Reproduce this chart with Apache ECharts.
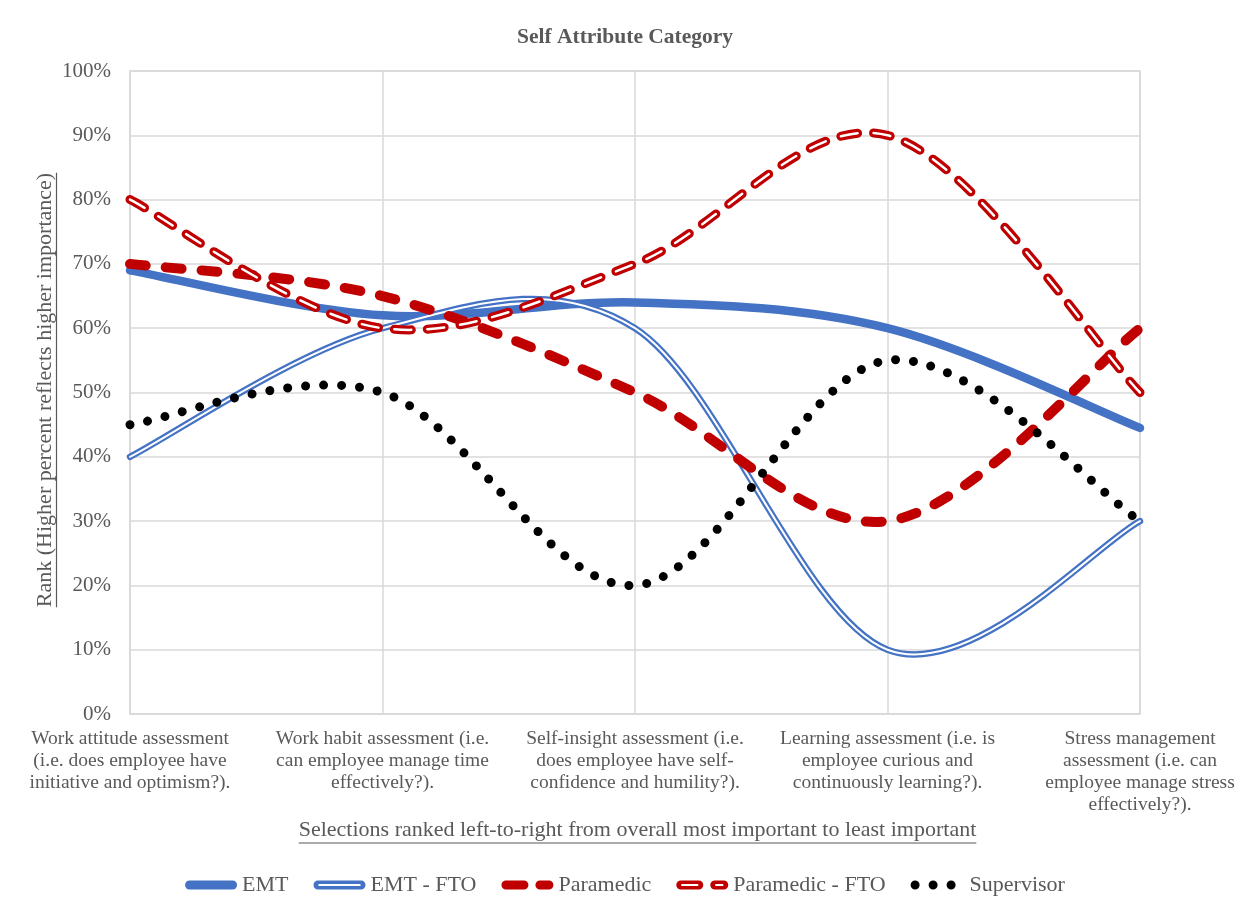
<!DOCTYPE html>
<html>
<head>
<meta charset="utf-8">
<script src="https://cdn.jsdelivr.net/npm/echarts@6/dist/echarts.min.js"></script>
<style>
  html, body { margin: 0; padding: 0; background: #ffffff; }
  #chart { width: 1250px; height: 911px; }
</style>
</head>
<body>
<div id="chart"></div>
<script>
// Assessment categories, ordered from most to least important
const categories = [
  'Work attitude assessment\n(i.e. does employee have\ninitiative and optimism?).',
  'Work habit assessment (i.e.\ncan employee manage time\neffectively?).',
  'Self-insight assessment (i.e.\ndoes employee have self-\nconfidence and humility?).',
  'Learning assessment (i.e. is\nemployee curious and\ncontinuously learning?).',
  'Stress management\nassessment (i.e. can\nemployee manage stress\neffectively?).'
];

// Rank (%) per respondent group
const emt          = [69, 62, 64, 60, 44.5];
const emtFto       = [40, 60, 60, 10, 30];
const paramedic    = [70, 65, 50, 30, 60];
const paramedicFto = [80, 60, 70, 90, 50];
const supervisor   = [45, 50, 20, 55, 30];

const seriesNames = ['EMT', 'EMT - FTO', 'Paramedic', 'Paramedic - FTO', 'Supervisor'];

const BLUE = '#4472C4';
const RED = '#C00000';
const TEXT = '#595959';
const GRIDLINE = '#d9d9d9';
const FONT = '"Liberation Serif", "Times New Roman", serif';

// Smooth curve through the points: cubic Bezier segments whose tangents
// come from the neighbouring points (one sixth of the chord).
function smoothPath(pts) {
  let d = 'M' + pts[0][0] + ',' + pts[0][1];
  const n = pts.length;
  for (let i = 0; i < n - 1; i++) {
    const p0 = pts[Math.max(i - 1, 0)];
    const p1 = pts[i];
    const p2 = pts[i + 1];
    const p3 = pts[Math.min(i + 2, n - 1)];
    const c1x = p1[0] + (p2[0] - p0[0]) / 6;
    const c1y = p1[1] + (p2[1] - p0[1]) / 6;
    const c2x = p2[0] - (p3[0] - p1[0]) / 6;
    const c2y = p2[1] - (p3[1] - p1[1]) / 6;
    d += 'C' + c1x + ',' + c1y + ',' + c2x + ',' + c2y + ',' + p2[0] + ',' + p2[1];
  }
  return d;
}

// Each stroke layer: {stroke, lineWidth, lineDash}
function curveSeries(name, values, color, layers) {
  return {
    name: name,
    type: 'custom',
    silent: true,
    itemStyle: { color: color },
    data: values.map((v, i) => [i, v]),
    renderItem: function (params, api) {
      if (params.dataIndexInside !== 0) return null;
      const count = params.dataInsideLength;
      const pts = [];
      for (let i = 0; i < count; i++) {
        pts.push(api.coord([api.value(0, i), api.value(1, i)]));
      }
      const d = smoothPath(pts);
      return {
        type: 'group',
        children: layers.map(l => ({
          type: 'path',
          shape: { pathData: d },
          style: {
            fill: 'none',
            stroke: l.stroke,
            lineWidth: l.lineWidth,
            lineDash: l.lineDash || null,
            lineCap: 'round',
            lineJoin: 'round'
          }
        }))
      };
    }
  };
}

// Legend glyphs (52 x 9 boxes)
const icons = {
  'EMT': 'path://M4.5,0L47.5,0A4.5,4.5,0,0,1,47.5,9L4.5,9A4.5,4.5,0,0,1,4.5,0Z',
  'EMT - FTO': 'path://M4.5,0L47.5,0A4.5,4.5,0,0,1,47.5,9L4.5,9A4.5,4.5,0,0,1,4.5,0Z' +
               'M5,3.5L5,5.5L47,5.5L47,3.5Z',
  'Paramedic': 'path://M4.5,0L22.5,0A4.5,4.5,0,0,1,22.5,9L4.5,9A4.5,4.5,0,0,1,4.5,0Z' +
               'M38.5,0L47.5,0A4.5,4.5,0,0,1,47.5,9L38.5,9A4.5,4.5,0,0,1,38.5,0Z',
  'Paramedic - FTO': 'path://M4.5,0L22.5,0A4.5,4.5,0,0,1,22.5,9L4.5,9A4.5,4.5,0,0,1,4.5,0Z' +
               'M5,3.5L5,5.5L22,5.5L22,3.5Z' +
               'M38.5,0L47.5,0A4.5,4.5,0,0,1,47.5,9L38.5,9A4.5,4.5,0,0,1,38.5,0Z' +
               'M39,3.5L39,5.5L47,5.5L47,3.5Z',
  'Supervisor': 'path://M0,4A4,4,0,1,0,8,4A4,4,0,1,0,0,4Z' +
               'M16,4A4,4,0,1,0,24,4A4,4,0,1,0,16,4Z' +
               'M32,4A4,4,0,1,0,40,4A4,4,0,1,0,32,4Z'
};
const legendColors = { 'EMT': BLUE, 'EMT - FTO': BLUE, 'Paramedic': RED, 'Paramedic - FTO': RED, 'Supervisor': '#000000' };

// Underlined axis titles
const xName = 'Selections ranked left-to-right from overall most important to least important';
const yName = 'Rank (Higher percent reflects higher importance)';
const NAME_SIZE = 22;
const measureCtx = document.createElement('canvas').getContext('2d');
measureCtx.font = NAME_SIZE + 'px ' + FONT;
const xNameW = measureCtx.measureText(xName).width;
const yNameW = measureCtx.measureText(yName).width;

const chart = echarts.init(document.getElementById('chart'), null, { renderer: 'canvas' });

chart.setOption({
  animation: false,
  backgroundColor: '#ffffff',
  title: {
    text: 'Self Attribute Category',
    left: 'center',
    top: 21,
    textStyle: { fontFamily: FONT, fontSize: 21.5, fontWeight: 'bold', color: TEXT }
  },
  grid: {
    left: 130, right: 110, top: 71, bottom: 197,
    show: true, borderColor: GRIDLINE, borderWidth: 1.5
  },
  xAxis: {
    type: 'category',
    data: categories,
    boundaryGap: false,
    axisLine: { show: true, lineStyle: { color: GRIDLINE, width: 1.5 } },
    axisTick: { show: false },
    splitLine: { show: true, lineStyle: { color: GRIDLINE, width: 1.5 } },
    axisLabel: {
      interval: 0,
      margin: 14,
      fontFamily: FONT,
      fontSize: 19.5,
      lineHeight: 22,
      color: TEXT,
      align: 'center'
    }
  },
  yAxis: {
    type: 'value',
    min: 0,
    max: 100,
    interval: 10,
    axisLine: { show: true, lineStyle: { color: GRIDLINE, width: 1.5 } },
    axisTick: { show: false },
    splitLine: { show: true, lineStyle: { color: GRIDLINE, width: 1.5 } },
    axisLabel: {
      formatter: '{value}%',
      margin: 19,
      fontFamily: FONT,
      fontSize: 21,
      color: TEXT
    }
  },
  legend: {
    bottom: 10,
    left: 'center',
    itemWidth: 52,
    itemHeight: 9,
    itemGap: 25,
    selectedMode: false,
    formatter: name => (name === 'Supervisor' ? ' ' + name : name),
    textStyle: { fontFamily: FONT, fontSize: 22, color: TEXT },
    data: seriesNames.map(n => ({
      name: n,
      icon: icons[n],
      itemStyle: { color: legendColors[n], borderWidth: 0 }
    }))
  },
  series: [
    curveSeries('EMT', emt, BLUE, [
      { stroke: BLUE, lineWidth: 8.5 }
    ]),
    curveSeries('EMT - FTO', emtFto, BLUE, [
      { stroke: BLUE, lineWidth: 6.5 },
      { stroke: '#ffffff', lineWidth: 2 }
    ]),
    curveSeries('Paramedic', paramedic, RED, [
      { stroke: RED, lineWidth: 10, lineDash: [16, 20] }
    ]),
    curveSeries('Paramedic - FTO', paramedicFto, RED, [
      { stroke: RED, lineWidth: 9, lineDash: [17, 16] },
      { stroke: '#ffffff', lineWidth: 2.5, lineDash: [17, 16] }
    ]),
    curveSeries('Supervisor', supervisor, '#000000', [
      { stroke: '#000000', lineWidth: 9, lineDash: [0.001, 18] }
    ])
  ],
  graphic: [
    {
      type: 'group',
      left: 635 - xNameW / 2,
      top: 819,
      children: [
        {
          type: 'text',
          x: 0, y: 0,
          style: { text: xName, fontFamily: FONT, fontSize: NAME_SIZE, fill: TEXT, textVerticalAlign: 'top' }
        },
        {
          type: 'line',
          shape: { x1: 0, y1: 24, x2: xNameW, y2: 24 },
          style: { stroke: TEXT, lineWidth: 1.2 }
        }
      ]
    },
    {
      type: 'group',
      x: 45,
      y: 390,
      rotation: Math.PI / 2,
      children: [
        {
          type: 'text',
          x: 0, y: 0,
          style: { text: yName, fontFamily: FONT, fontSize: NAME_SIZE, fill: TEXT, align: 'center', verticalAlign: 'middle' }
        },
        {
          type: 'line',
          shape: { x1: -yNameW / 2, y1: 11.5, x2: yNameW / 2, y2: 11.5 },
          style: { stroke: TEXT, lineWidth: 1.2 }
        }
      ]
    }
  ]
});
</script>
</body>
</html>
